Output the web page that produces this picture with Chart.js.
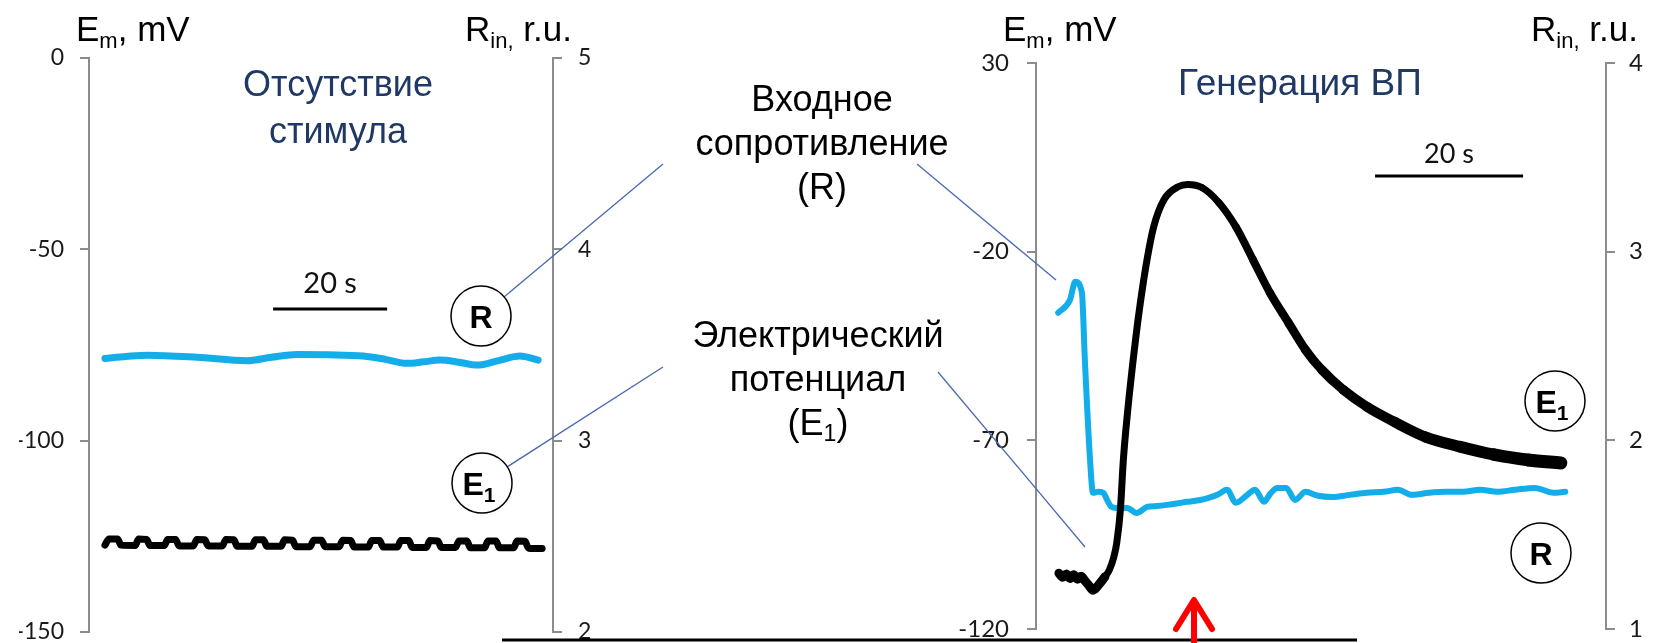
<!DOCTYPE html>
<html>
<head>
<meta charset="utf-8">
<script src="https://cdn.jsdelivr.net/npm/chart.js@4.4.1/dist/chart.umd.min.js"></script>
<style>
  html, body { margin: 0; padding: 0; background: #fff; overflow: hidden; width: 1656px; height: 643px; }
  #stage { position: relative; width: 1656px; height: 643px; overflow: hidden; }
  canvas.panel { position: absolute; left: 0; top: 0; }
  .txt { position: absolute; white-space: nowrap; font-family: "Liberation Sans", Arial, sans-serif; color: #000; }
  .axis-title { font-size: 35px; line-height: 40px; top: 9px; }
  .axis-title sub { font-size: 22px; vertical-align: -7px; line-height: 0; }
  .caption { color: #1f3864; text-align: center; transform: translateX(-50%); }
  .note { text-align: center; transform: translateX(-50%); font-size: 36px; line-height: 44px; }
  .note sub { font-size: 23px; vertical-align: -6px; line-height: 0; }
  svg#overlay { position: absolute; left: 0; top: 0; }
</style>
</head>
<body>
<div id="stage">
  <canvas id="restChart" class="panel" width="1656" height="700"></canvas>
  <canvas id="apChart" class="panel" width="1656" height="700"></canvas>

  <div class="txt axis-title" style="left:76px;">E<sub>m</sub>, mV</div>
  <div class="txt axis-title" style="left:465px;">R<sub>in,</sub> r.u.</div>
  <div class="txt axis-title" style="left:1003px;">E<sub>m</sub>, mV</div>
  <div class="txt axis-title" style="left:1531px;">R<sub>in,</sub> r.u.</div>

  <div class="txt caption" style="left:338px; top:60px; font-size:36px; line-height:47px;">Отсутствие<br>стимула</div>
  <div class="txt caption" style="left:1300px; top:63px; font-size:37px; line-height:40px;">Генерация ВП</div>

  <div class="txt note" style="left:822px; top:77px;">Входное<br>сопротивление<br>(R)</div>
  <div class="txt note" style="left:818px; top:313px;">Электрический<br>потенциал<br>(E<sub>1</sub>)</div>

  <svg id="overlay" width="1656" height="643" xmlns="http://www.w3.org/2000/svg">
    <g stroke="#4a68b0" stroke-width="1.3" fill="none">
      <line x1="504" y1="297" x2="663" y2="164"/>
      <line x1="917" y1="164" x2="1056" y2="280"/>
      <line x1="507" y1="467" x2="663" y2="367"/>
      <line x1="938" y1="372" x2="1085" y2="547"/>
    </g>
    <g stroke="#000" stroke-width="1.5" fill="#fff">
      <circle cx="481" cy="316" r="30"/>
      <circle cx="482" cy="483" r="30"/>
      <circle cx="1555" cy="401" r="30"/>
      <circle cx="1541" cy="553" r="30"/>
    </g>
    <g font-family="Liberation Sans, Arial, sans-serif" font-weight="bold" fill="#000" text-anchor="middle">
      <text x="481" y="328" font-size="32">R</text>
      <text x="479" y="495" font-size="32">E<tspan font-size="21" dy="7">1</tspan></text>
      <text x="1552" y="413" font-size="32">E<tspan font-size="21" dy="7">1</tspan></text>
      <text x="1541" y="565" font-size="32">R</text>
    </g>
    <line x1="502" y1="640" x2="1357" y2="640" stroke="#000" stroke-width="3"/>
    <g stroke="#ff0000" stroke-width="6" stroke-linecap="round" stroke-linejoin="round" fill="none">
      <line x1="1194" y1="650" x2="1194" y2="602"/>
      <polyline points="1176,629 1194,600 1212,629"/>
    </g>
  </svg>
</div>

<script>
// ---- Recording without stimulus (time, s) ----
const restRTime = [2.8, 6.5, 10.2, 19.0, 27.7, 32.0, 36.5, 42.0, 48.1, 52.0, 55.8, 58.7, 61.6, 64.9, 68.1, 72.0, 75.6, 78.8];
const restR     = [3.430, 3.440, 3.447, 3.436, 3.418, 3.436, 3.451, 3.449, 3.442, 3.425, 3.404, 3.412, 3.421, 3.410, 3.395, 3.420, 3.442, 3.421];

const restETime = [2.8, 3.5, 5.0, 5.6,   8.1, 8.7, 10.1, 10.7,  13.2, 13.8, 15.2, 15.8,  18.3, 18.9, 20.3, 20.9,
                   23.4, 24.0, 25.4, 26.0,  28.6, 29.2, 30.6, 31.2,  33.7, 34.3, 35.7, 36.3,  38.8, 39.4, 40.8, 41.4,
                   43.9, 44.5, 45.9, 46.5,  49.0, 49.6, 51.0, 51.6,  54.1, 54.7, 56.1, 56.7,  59.2, 59.8, 61.2, 61.8,
                   64.3, 64.9, 66.3, 66.9,  69.4, 70.0, 71.4, 72.0,  74.5, 75.1, 76.5, 77.1,  79.5];
const restE     = [-127.3, -125.7, -125.7, -127.3,  -127.4, -125.7, -125.8, -127.4,  -127.4, -125.8, -125.8, -127.5,  -127.5, -125.8, -125.9, -127.5,
                   -127.5, -125.8, -125.9, -127.6,  -127.6, -125.9, -125.9, -127.6,  -127.6, -125.9, -126.0, -127.7,  -127.7, -126.0, -126.0, -127.7,
                   -127.7, -126.0, -126.1, -127.8,  -127.8, -126.1, -126.1, -127.8,  -127.8, -126.1, -126.1, -127.9,  -127.9, -126.1, -126.2, -127.9,
                   -127.9, -126.2, -126.2, -128.0,  -128.0, -126.2, -126.2, -128.0,  -128.0, -126.2, -126.3, -128.1,  -128.2];

// ---- Recording with action potential (time, s) ----
const apRTime = [3.0, 4.6, 5.3, 6.2, 6.6, 7.3, 7.7, 8.4, 9.1, 9.6, 10.2, 10.9, 12.3, 13.6, 15.0, 16.3, 17.7, 19.0, 20.4, 22.2,
                 23.3, 24.5, 25.8, 27.0, 28.4, 29.6, 30.8, 31.7, 32.6, 33.8, 35.0, 36.4, 38.1, 40.0, 42.4, 44.7, 47.0, 48.9,
                 50.8, 53.1, 55.4, 57.7, 60.0, 62.3, 64.7, 67.4, 69.9, 71.5];
const apR     = [2.676, 2.745, 2.841, 2.783, 2.427, 1.897, 1.722, 1.727, 1.722, 1.684, 1.647, 1.642, 1.642, 1.615, 1.647, 1.652, 1.658, 1.665, 1.674, 1.684,
                 1.695, 1.711, 1.738, 1.669, 1.706, 1.738, 1.674, 1.720, 1.748, 1.748, 1.684, 1.727, 1.706, 1.700, 1.711, 1.722, 1.727, 1.738,
                 1.711, 1.722, 1.727, 1.727, 1.738, 1.727, 1.738, 1.748, 1.722, 1.727];

const apETime = [3.1, 3.6, 4.1, 4.6, 5.1, 5.6, 6.1, 6.6, 7.2, 7.7, 8.5, 9.3, 9.9, 10.5, 10.9, 11.4, 11.8, 12.4, 13.4, 14.1,
                 15.0, 15.9, 17.3, 19.2, 20.5, 22.4, 24.7, 27.0, 29.3, 31.6, 34.1, 36.4, 38.6, 41.5, 44.7, 48.4, 52.6, 57.3,
                 61.9, 66.5, 70.9];
const apE     = [-105.2, -106.3, -105.4, -106.6, -105.6, -106.8, -106.0, -107.2, -108.6, -109.7, -108.2, -106.2, -104.4, -101.0, -97.3, -88.4, -75.2, -61.9, -44.1, -33.5,
                 -22.1, -13.4, -6.2, -2.8, -2.2, -3.0, -7.0, -13.4, -22.1, -30.9, -38.8, -46.0, -51.3, -56.6, -61.1, -65.1, -69.1, -71.7,
                 -73.8, -75.2, -76.0];

// ---- Axis ticks ----
const restEmTicks = [0, -50, -100, -150];
const restRTicks  = [5, 4, 3, 2];
const apEmTicks   = [30, -20, -70, -120];
const apRTicks    = [4, 3, 2, 1];

const BLUE = '#13aeea';
const AXIS_GREY = '#8c8c8c';
const pts = (t, v) => t.map((x, i) => ({ x, y: v[i] }));

// 20 s time scale bar, length taken from the x scale
const scaleBar = {
  id: 'scaleBar',
  afterDatasetsDraw(chart, args, opts) {
    const xs = chart.scales.x;
    const ctx = chart.ctx;
    const x0 = xs.getPixelForValue(opts.start);
    const x1 = xs.getPixelForValue(opts.start + opts.length);
    ctx.save();
    ctx.strokeStyle = '#000';
    ctx.lineWidth = 3;
    ctx.beginPath();
    ctx.moveTo(x0, opts.y);
    ctx.lineTo(x1, opts.y);
    ctx.stroke();
    ctx.fillStyle = '#111';
    ctx.font = opts.font;
    ctx.textAlign = 'center';
    ctx.textBaseline = 'alphabetic';
    ctx.fillText(opts.label, (x0 + x1) / 2, opts.y - opts.gap);
    ctx.restore();
  }
};
Chart.register(scaleBar);

function yAxis(side, ticks, width, fontSize, pad) {
  return {
    position: side,
    min: Math.min(...ticks),
    max: Math.max(...ticks),
    afterBuildTicks: s => { s.ticks = ticks.map(v => ({ value: v })); },
    afterFit: s => { s.width = width; },
    grid: { display: true, drawOnChartArea: false, drawTicks: true, tickLength: 9, color: AXIS_GREY, lineWidth: 2 },
    border: { display: true, color: AXIS_GREY, width: 2 },
    ticks: { padding: pad, color: '#1a1a1a', font: { family: 'Lato, "Liberation Sans", sans-serif', size: fontSize } }
  };
}

function makeChart(id, cfg) {
  return new Chart(document.getElementById(id), {
    type: 'line',
    data: {
      datasets: [
        { data: pts(cfg.eTime, cfg.e), yAxisID: 'yE', borderColor: '#000', borderWidth: cfg.eWidth,
          segment: cfg.eSegment, pointRadius: 0, cubicInterpolationMode: 'monotone',
          borderCapStyle: 'round', borderJoinStyle: 'round' },
        { data: pts(cfg.rTime, cfg.r), yAxisID: 'yR', borderColor: BLUE, borderWidth: cfg.rWidth,
          pointRadius: 0, cubicInterpolationMode: 'monotone', borderCapStyle: 'round', borderJoinStyle: 'round' }
      ]
    },
    options: {
      responsive: false,
      animation: false,
      events: [],
      layout: { padding: cfg.padding },
      plugins: { legend: { display: false }, tooltip: { enabled: false }, scaleBar: cfg.bar },
      scales: {
        x: { type: 'linear', display: false, min: 0, max: cfg.xMax },
        yE: yAxis('left', cfg.eTicks, cfg.leftW, cfg.fontSize, cfg.leftPad),
        yR: yAxis('right', cfg.rTicks, cfg.rightW, cfg.fontSize, cfg.rightPad)
      }
    }
  });
}

// Left panel: plot area x 89..553, y 58..632
makeChart('restChart', {
  eTime: restETime, e: restE, rTime: restRTime, r: restR,
  eTicks: restEmTicks, rTicks: restRTicks,
  eWidth: 7, rWidth: 7, xMax: 81.4,
  leftW: 70, rightW: 60, fontSize: 23, leftPad: 16, rightPad: 16,
  padding: { left: 19, right: 1043, top: 58, bottom: 68 },
  bar: { start: 32.3, length: 20, y: 309, gap: 16, label: '20 s', font: '29px Lato, "Liberation Sans", sans-serif' }
});

// Right panel: plot area x 1036..1606, y 63..629
// the potential trace gets heavier along the slow repolarisation tail
makeChart('apChart', {
  eTime: apETime, e: apE, rTime: apRTime, r: apR,
  eTicks: apEmTicks, rTicks: apRTicks,
  eWidth: 8, rWidth: 6, xMax: 77.0,
  eSegment: { borderWidth: c => { const t = c.p0.parsed.x; return t < 9 ? 9 : t < 22 ? 7 : Math.min(13, 7 + (t - 22) * 0.14); } },
  leftW: 80, rightW: 45, fontSize: 24, leftPad: 18, rightPad: 14,
  padding: { left: 956, right: 5, top: 63, bottom: 71 },
  bar: { start: 45.8, length: 20, y: 176, gap: 13, label: '20 s', font: '27px Lato, "Liberation Sans", sans-serif' }
});
</script>
</body>
</html>
